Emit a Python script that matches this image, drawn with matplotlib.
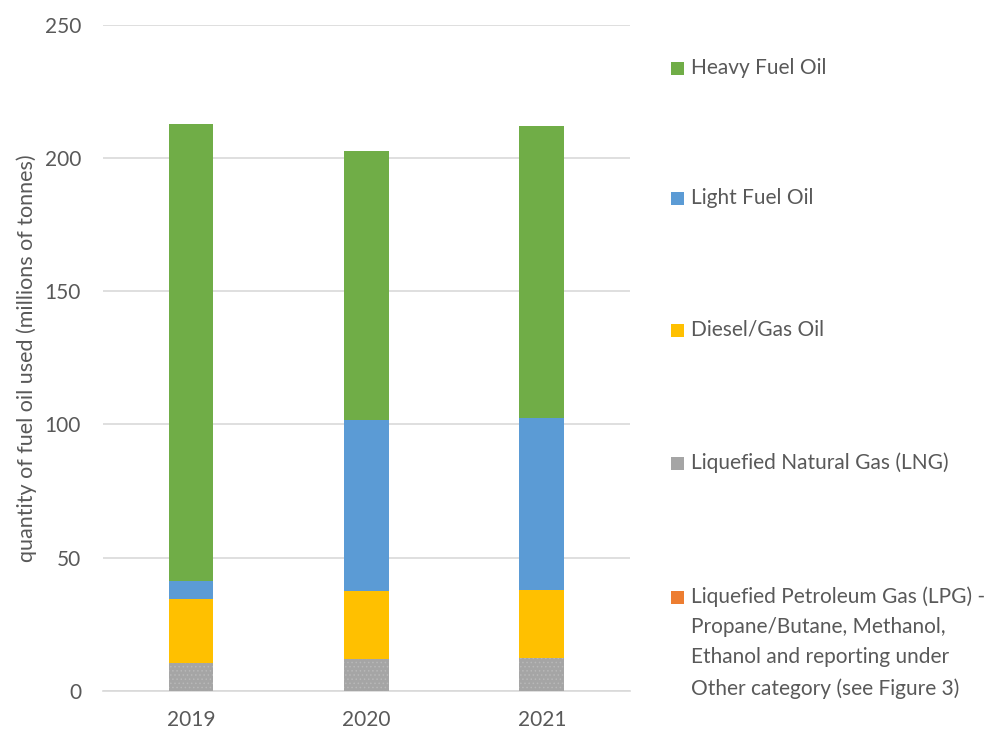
import numpy as np
import matplotlib
matplotlib.use("Agg")
import matplotlib.pyplot as plt
from matplotlib.patches import Rectangle

# data (millions of tonnes)
years = ["2019", "2020", "2021"]
lng = [10.3, 11.8, 12.3]
lpg = [0.1, 0.1, 0.1]
diesel = [24.1, 25.6, 25.6]
light = [6.7, 64.0, 64.6]
heavy = [171.7, 101.3, 109.5]

series_names = ["Liquefied Natural Gas (LNG)",
                "Liquefied Petroleum Gas (LPG) -\nPropane/Butane, Methanol,\nEthanol and reporting under\nOther category (see Figure 3)",
                "Diesel/Gas Oil", "Light Fuel Oil", "Heavy Fuel Oil"]
series_vals = [lng, lpg, diesel, light, heavy]
series_cols = ["#A5A5A5", "#ED7D31", "#FFC000", "#5B9BD5", "#70AD47"]

txt = "#595959"
plt.rcParams['font.family'] = ['Lato', 'DejaVu Sans']
plt.rcParams['hatch.linewidth'] = 0.6

fig = plt.figure(figsize=(10.02, 7.31), dpi=100)
ax = fig.add_axes([0.1031, 0.0551, 0.5253, 0.9107])

x = np.arange(len(years))
w = 0.256
bottom = np.zeros(len(years))
for name, vals, col in zip(series_names, series_vals, series_cols):
    ax.bar(x, vals, w, bottom=bottom, color=col, edgecolor="none", zorder=3)
    if col == "#A5A5A5":
        # light dotted texture on the LNG segment
        ax.bar(x, vals, w, bottom=bottom, facecolor="none", edgecolor="#B8B8B8",
               linewidth=0, hatch="....", zorder=3)
    bottom += np.array(vals)

ax.set_xlim(-0.5, 2.5)
ax.set_ylim(0, 250)
ax.set_yticks([0, 50, 100, 150, 200, 250])
ax.set_xticks(x)
ax.set_xticklabels(years)
ax.yaxis.grid(True, color="#D9D9D9", linewidth=1.2, zorder=0)
for s in ["top", "right", "left"]:
    ax.spines[s].set_visible(False)
ax.spines["bottom"].set_color("#D9D9D9")
ax.spines["bottom"].set_linewidth(1.2)
ax.tick_params(axis="both", length=0, labelsize=15, labelcolor=txt)
ax.tick_params(axis="y", pad=16)
ax.tick_params(axis="x", pad=14)
ax.set_ylabel("quantity of fuel oil used (millions of tonnes)", fontsize=15.5,
              color=txt)
ax.yaxis.set_label_coords(-66 / 526.4, 0.5)

# legend, drawn by hand to match the wide spacing
leg_y = [68, 198, 330, 463, 597]
leg_order = [4, 3, 2, 0, 1]
W, H = 1002, 731
for yy, i in zip(leg_y, leg_order):
    fig.patches.append(Rectangle((671 / W, 1 - (yy + 6.5) / H), 13 / W, 13 / H,
                                 transform=fig.transFigure, facecolor=series_cols[i],
                                 edgecolor="none"))
    multi = "\n" in series_names[i]
    fig.text(691 / W, 1 - (yy - 11 if multi else yy) / H, series_names[i],
             fontsize=15, color=txt, va="top" if multi else "center",
             linespacing=1.65)

fig.savefig("out.png", dpi=100)
